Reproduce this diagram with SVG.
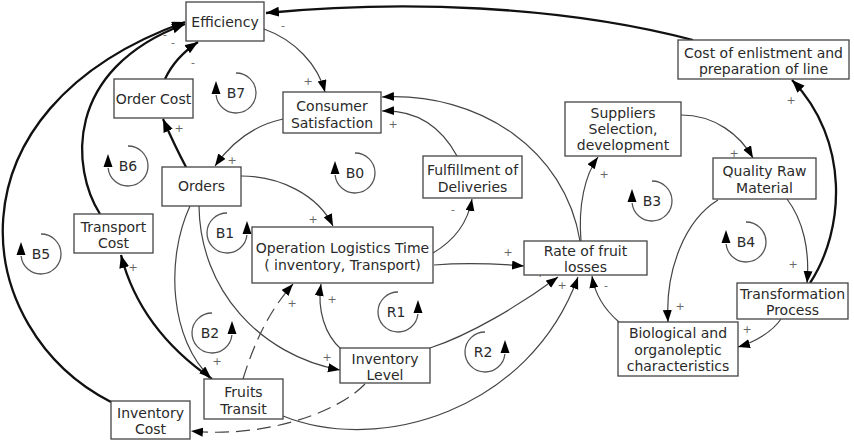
<svg xmlns="http://www.w3.org/2000/svg" width="854" height="442" viewBox="0 0 854 442">
<style>
.box{fill:#fff;stroke:#444;stroke-width:1.3}
.t{font-family:"DejaVu Sans",Verdana,sans-serif;font-size:14px;fill:#2a2a2a;text-anchor:middle}
.thin{fill:none;stroke:#444;stroke-width:1.2;marker-end:url(#ah)}
.thick{fill:none;stroke:#111;stroke-width:2.3;marker-end:url(#ahb)}
.dash{stroke-dasharray:14 7}
.pol{font-family:"DejaVu Sans",Verdana,sans-serif;font-size:11px;fill:#666;text-anchor:middle}
.arc{fill:none;stroke:#555;stroke-width:1.3}
</style>
<defs>
<marker id="ah" markerUnits="userSpaceOnUse" markerWidth="13" markerHeight="10" refX="12" refY="4.5" orient="auto"><path d="M0,0 L12,4.5 L0,9 z" fill="#000"/></marker>
<marker id="ahb" markerUnits="userSpaceOnUse" markerWidth="14" markerHeight="11" refX="13" refY="5" orient="auto"><path d="M0,0 L13,5 L0,10 z" fill="#000"/></marker>
<g id="loopCW"><path class="arc" d="M0,-20 A20,20 0 1,1 -19.9,2"/><path d="M-20,-12 L-24.5,1 L-15.5,1 z" fill="#000"/></g>
<g id="loopCCW"><path class="arc" d="M0,-20 A20,20 0 1,0 19.9,2"/><path d="M20,-12 L24.5,1 L15.5,1 z" fill="#000"/></g>
</defs>

<g id="connectors">
<path class="thick" d="M693,40 C560,5 400,0 266,13"/>
<path class="thick" d="M810,283 C845,230 850,140 792,80"/>
<path class="thick" d="M165,79 C172,64 183,52 198,42"/>
<path class="thick" d="M186,167 C178,152 170,135 163,119"/>
<path class="thick" d="M100,214 C72,170 62,70 185,24"/>
<path class="thick" d="M111,402 C-30,330 -60,110 185,22"/>
<path class="thick" d="M212,379 C170,350 135,310 121,255"/>
<path class="thin" d="M264,29 C295,40 318,65 325,92"/>
<path class="thin" d="M283,119 C255,125 232,142 215,166"/>
<path class="thin" d="M457,156 C440,125 415,110 382,111"/>
<path class="thin" d="M580,241 C565,150 480,92 382,97"/>
<path class="thin" d="M433,253 C455,240 468,222 472,199"/>
<path class="thin" d="M434,265 C470,262 500,264 524,266"/>
<path class="thin" d="M241,176 C280,176 318,195 333,226"/>
<path class="thin" d="M581,241 C578,205 585,175 598,157"/>
<path class="thin" d="M681,115 C715,115 740,135 753,158"/>
<path class="thin" d="M787,199 C803,220 810,250 807,283"/>
<path class="thin" d="M718,200 C685,220 665,270 668,322"/>
<path class="thin" d="M781,319 C772,332 755,342 738,347"/>
<path class="thin" d="M619,322 C605,310 595,295 592,276"/>
<path class="thin" d="M199,206 C200,290 260,355 340,370"/>
<path class="thin" d="M190,206 C165,260 170,340 211,378"/>
<path class="thin" d="M341,349 C325,335 317,310 321,284"/>
<path class="thin dash" d="M243,379 C255,340 270,310 293,284"/>
<path class="thin" d="M430,348 C470,335 520,305 558,277"/>
<path class="thin" d="M283,416 C380,455 530,410 578,277"/>
<path class="thin dash" d="M365,384 C335,415 260,438 191,431"/>
</g>

<g id="polarities">
<text class="pol" x="283" y="29">-</text>
<text class="pol" x="308" y="85">+</text>
<text class="pol" x="193" y="66">-</text>
<text class="pol" x="165" y="38">-</text>
<text class="pol" x="173" y="46">-</text>
<text class="pol" x="179" y="132">+</text>
<text class="pol" x="393" y="128">+</text>
<text class="pol" x="232" y="164">+</text>
<text class="pol" x="313" y="223">+</text>
<text class="pol" x="453" y="213">-</text>
<text class="pol" x="508" y="256">+</text>
<text class="pol" x="604" y="178">+</text>
<text class="pol" x="734" y="157">+</text>
<text class="pol" x="793" y="268">+</text>
<text class="pol" x="791" y="104">+</text>
<text class="pol" x="680" y="310">+</text>
<text class="pol" x="747" y="333">+</text>
<text class="pol" x="540" y="277">+</text>
<text class="pol" x="562" y="289">+</text>
<text class="pol" x="606" y="289">-</text>
<text class="pol" x="133" y="271">+</text>
<text class="pol" x="292" y="307">+</text>
<text class="pol" x="332" y="303">+</text>
<text class="pol" x="327" y="361">+</text>
<text class="pol" x="217" y="365">+</text>
</g>

<g id="loops">
<g id="loop-B7" transform="translate(236,93)"><use href="#loopCW"/><text class="t" x="0" y="5">B7</text></g>
<g id="loop-B6" transform="translate(128,166)"><use href="#loopCW"/><text class="t" x="0" y="5">B6</text></g>
<g id="loop-B5" transform="translate(41,254)"><use href="#loopCW"/><text class="t" x="0" y="5">B5</text></g>
<g id="loop-B0" transform="translate(355,173)"><use href="#loopCW"/><text class="t" x="0" y="5">B0</text></g>
<g id="loop-B3" transform="translate(652,201)"><use href="#loopCW"/><text class="t" x="0" y="5">B3</text></g>
<g id="loop-B4" transform="translate(746,242)"><use href="#loopCW"/><text class="t" x="0" y="5">B4</text></g>
<g id="loop-B1" transform="translate(227,233)"><use href="#loopCCW"/><text class="t" x="-2" y="5">B1</text></g>
<g id="loop-B2" transform="translate(212,333)"><use href="#loopCCW"/><text class="t" x="-2" y="5">B2</text></g>
<g id="loop-R1" transform="translate(398,312)"><use href="#loopCCW"/><text class="t" x="-2" y="5">R1</text></g>
<g id="loop-R2" transform="translate(485,352)"><use href="#loopCCW"/><text class="t" x="-2" y="5">R2</text></g>
</g>

<g id="node-efficiency"><rect class="box" x="186" y="2" width="78" height="39"/><text class="t" x="225" y="27">Efficiency</text></g>
<g id="node-order-cost"><rect class="box" x="114" y="79" width="79" height="39"/><text class="t" x="153.5" y="104">Order Cost</text></g>
<g id="node-consumer"><rect class="box" x="283" y="92" width="98" height="41"/><text class="t" x="332" y="111">Consumer</text><text class="t" x="332" y="128">Satisfaction</text></g>
<g id="node-cost-enlistment"><rect class="box" x="678" y="40" width="171" height="39"/><text class="t" x="763.5" y="58">Cost of enlistment and</text><text class="t" x="763.5" y="74">preparation of line</text></g>
<g id="node-suppliers"><rect class="box" x="565" y="102" width="116" height="54"/><text class="t" x="623" y="118">Suppliers</text><text class="t" x="623" y="134">Selection,</text><text class="t" x="623" y="150">development</text></g>
<g id="node-orders"><rect class="box" x="162" y="167" width="79" height="39"/><text class="t" x="201.5" y="191">Orders</text></g>
<g id="node-transport-cost"><rect class="box" x="74" y="214" width="79" height="39"/><text class="t" x="113.5" y="232">Transport</text><text class="t" x="113.5" y="248">Cost</text></g>
<g id="node-fulfillment"><rect class="box" x="423" y="156" width="99" height="42"/><text class="t" x="472.5" y="175">Fulfillment of</text><text class="t" x="472.5" y="192">Deliveries</text></g>
<g id="node-op-logistics"><rect class="box" x="252" y="227" width="181" height="56"/><text class="t" x="342.5" y="253">Operation Logistics Time</text><text class="t" x="342.5" y="270">( inventory, Transport)</text></g>
<g id="node-rate-losses"><rect class="box" x="524" y="241" width="123" height="34"/><text class="t" x="585.5" y="256">Rate of fruit</text><text class="t" x="585.5" y="272">losses</text></g>
<g id="node-quality"><rect class="box" x="713" y="158" width="103" height="41"/><text class="t" x="764.5" y="176">Quality Raw</text><text class="t" x="764.5" y="193">Material</text></g>
<g id="node-transformation"><rect class="box" x="737" y="283" width="111" height="36"/><text class="t" x="792.5" y="299">Transformation</text><text class="t" x="792.5" y="315">Process</text></g>
<g id="node-biological"><rect class="box" x="618" y="322" width="120" height="54"/><text class="t" x="678" y="338">Biological and</text><text class="t" x="678" y="355">organoleptic</text><text class="t" x="678" y="371">characteristics</text></g>
<g id="node-inventory-level"><rect class="box" x="340" y="348" width="90" height="35"/><text class="t" x="385" y="364">Inventory</text><text class="t" x="385" y="380">Level</text></g>
<g id="node-fruits-transit"><rect class="box" x="204" y="379" width="79" height="40"/><text class="t" x="243.5" y="397">Fruits</text><text class="t" x="243.5" y="414">Transit</text></g>
<g id="node-inventory-cost"><rect class="box" x="111" y="401" width="79" height="38"/><text class="t" x="150.5" y="418">Inventory</text><text class="t" x="150.5" y="434">Cost</text></g>
</svg>
